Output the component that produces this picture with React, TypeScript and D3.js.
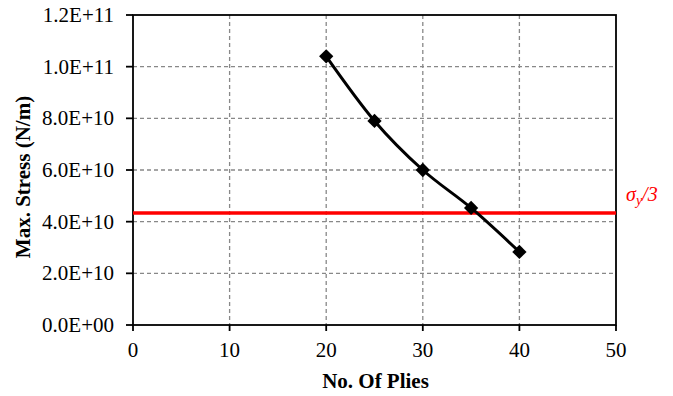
import React from "react";
import * as d3 from "d3";

const plies = [20, 25, 30, 35, 40];
const maxStress = [1.04e11, 7.9e10, 6.0e10, 4.53e10, 2.83e10];
const yieldThird = 4.34e10;
const xTicks = [0, 10, 20, 30, 40, 50];
const yTicks = [0, 2e10, 4e10, 6e10, 8e10, 1e11, 1.2e11];
const yTickLabels = ["0.0E+00", "2.0E+10", "4.0E+10", "6.0E+10", "8.0E+10", "1.0E+11", "1.2E+11"];

const W = 673, H = 396;
const L = 133, R = 616, T = 15, B = 325;
const fs = { fontFamily: "Liberation Serif, 'Times New Roman', Times, serif" };

export default function App() {
  const x = d3.scaleLinear().domain([0, 50]).range([L, R]);
  const y = d3.scaleLinear().domain([0, 1.2e11]).range([B, T]);
  const pts = plies.map((p, i) => [p, maxStress[i]] as [number, number]);
  const line = d3.line<[number, number]>().x(d => x(d[0])).y(d => y(d[1])).curve(d3.curveCardinal.tension(0));
  const diamond = d3.symbol().type(d3.symbolDiamond2).size(130)() as string;
  return (
    <svg width={W} height={H} style={{ position: "absolute", left: 0, top: 0, background: "#fff" }}>
      <rect x={0} y={0} width={W} height={H} fill="#fff" />
      {yTicks.slice(1, -1).map(t => (
        <line key={"gy" + t} x1={L} x2={R} y1={y(t)} y2={y(t)} stroke="#888" strokeWidth={1.3} strokeDasharray="4,3" />
      ))}
      {xTicks.slice(1, -1).map(t => (
        <line key={"gx" + t} x1={x(t)} x2={x(t)} y1={T} y2={B} stroke="#888" strokeWidth={1.3} strokeDasharray="4,3" />
      ))}
      <rect x={L} y={T} width={R - L} height={B - T} fill="none" stroke="#000" strokeWidth={1.8} />
      {yTicks.map(t => (
        <line key={"ty" + t} x1={L - 7} x2={L} y1={y(t)} y2={y(t)} stroke="#000" strokeWidth={1.8} />
      ))}
      {xTicks.map(t => (
        <line key={"tx" + t} x1={x(t)} x2={x(t)} y1={B} y2={B + 6} stroke="#000" strokeWidth={1.8} />
      ))}
      {yTicks.map((t, i) => (
        <text key={"ly" + t} x={L - 19} y={y(t)} dy="0.34em" textAnchor="end" style={fs} fontSize={21} fill="#000">
          {yTickLabels[i]}
        </text>
      ))}
      {xTicks.map(t => (
        <text key={"lx" + t} x={x(t)} y={357} textAnchor="middle" style={fs} fontSize={21} fill="#000">
          {t}
        </text>
      ))}
      <text x={(L + R) / 2 + 1} y={388} textAnchor="middle" style={fs} fontSize={21} fontWeight="bold">
        No. Of Plies
      </text>
      <text transform={`translate(30,${(T + B) / 2 + 7}) rotate(-90)`} textAnchor="middle" style={fs} fontSize={21} fontWeight="bold">
        Max. Stress (N/m)
      </text>
      <line x1={L} x2={R} y1={y(yieldThird)} y2={y(yieldThird)} stroke="#ff0000" strokeWidth={3.5} />
      <text x={626} y={201} style={fs} fontSize={20} fontStyle="italic" fill="#ff0000">
        σ<tspan dy={4} fontSize={14}>y</tspan><tspan dy={-4}>/3</tspan>
      </text>
      <path d={line(pts) as string} fill="none" stroke="#000" strokeWidth={3} />
      {pts.map((p, i) => (
        <path key={"m" + i} d={diamond} transform={`translate(${x(p[0])},${y(p[1])})`} fill="#000" />
      ))}
    </svg>
  );
}
